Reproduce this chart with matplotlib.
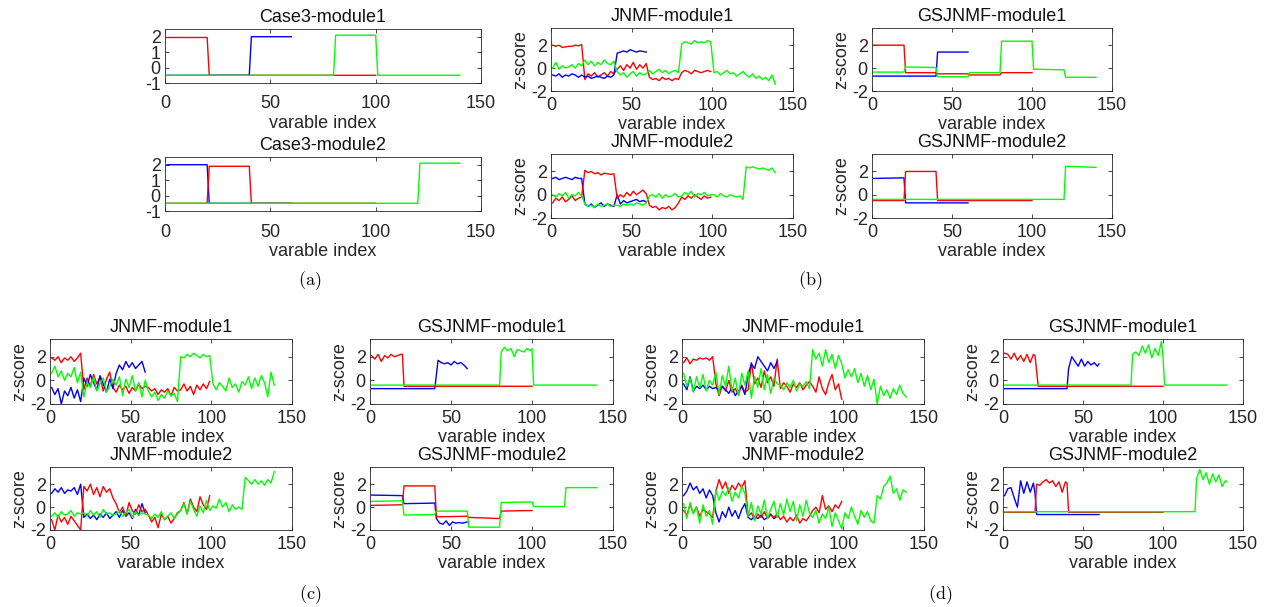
import matplotlib
matplotlib.use('Agg')
import matplotlib.pyplot as plt
import numpy as np

plt.rcParams['font.family'] = ['Liberation Sans', 'DejaVu Sans']
plt.rcParams['mathtext.fontset'] = 'cm'
plt.rcParams['axes.unicode_minus'] = False

# ---------------- (a) ground truth, breakpoints ----------------
a1_red_x = [1, 20, 21, 100];            a1_red_y = [1.95, 1.95, -0.5, -0.5]
a1_blue_x = [1, 40, 41, 60];            a1_blue_y = [-0.5, -0.5, 2.0, 2.0]
a1_green_x = [1, 80, 81, 100, 101, 140]; a1_green_y = [-0.5, -0.5, 2.1, 2.1, -0.5, -0.5]

a2_red_x = [1, 20, 21, 40, 41, 100];    a2_red_y = [-0.5, -0.5, 1.9, 1.9, -0.5, -0.5]
a2_blue_x = [1, 20, 21, 60];            a2_blue_y = [2.0, 2.0, -0.5, -0.5]
a2_green_x = [1, 120, 121, 140];        a2_green_y = [-0.5, -0.5, 2.1, 2.1]

# ---------------- (b) ----------------
# JNMF, sampled every 2nd variable
b1_red = [2.0, 1.9, 2.0, 1.8, 1.85, 1.9, 1.9, 2.0, 1.95, 2.05,
          -1.0, -0.5, -0.7, -0.4, -0.8, -0.6, -0.4, -0.7, -0.3, -0.5,
          -0.1, 0.2, -0.2, 0.3, 0.0, 0.5, -0.1, 0.3, 0.0, 0.4,
          -0.8, -1.0, -0.9, -1.1, -0.8, -1.0, -0.9, -1.1, -0.9, -1.0,
          -0.4, -0.2, -0.3, -0.5, -0.2, -0.3, -0.4, -0.3, -0.2, -0.3]
b1_blue = [-0.6, -0.7, -0.5, -0.8, -0.6, -0.7, -0.5, -0.6, -0.8, -0.6,
           -0.8, -0.7, -0.9, -0.8, -0.7, -0.8, -0.9, -0.7, -0.8, -0.6,
           1.3, 1.4, 1.5, 1.4, 1.6, 1.5, 1.4, 1.5, 1.45, 1.4]
b1_green = [0.0, 0.5, -0.1, 0.2, 0.0, 0.1, 0.3, 0.0, 0.4, 0.2,
            0.7, 0.3, 0.6, 0.2, 0.5, 0.3, 0.7, 0.4, 0.3, 0.6,
            -0.3, -0.6, -0.4, -0.8, -0.5, -0.3, -0.7, -0.4, -0.6, -0.5,
            -0.2, -0.5, -0.3, -0.1, -0.4, -0.2, -0.5, -0.3, -0.2, -0.4,
            2.1, 2.3, 2.2, 2.1, 2.4, 2.2, 2.3, 2.2, 2.4, 2.3,
            -0.4, -0.3, -0.6, -0.4, -0.2, -0.5, -0.4, -0.7, -0.5, -0.3,
            -0.6, -0.8, -0.5, -0.9, -0.7, -1.0, -0.8, -1.1, -0.6, -1.4]
b2_red = [-0.7, -0.3, -0.5, -0.2, -0.6, -0.4, -0.1, -0.5, -0.3, -0.2,
          2.1, 1.9, 2.0, 1.8, 1.9, 1.7, 1.85, 1.8, 1.75, 1.8,
          -0.3, 0.0, -0.2, 0.2, -0.1, 0.3, 0.0, 0.2, 0.4, 0.1,
          -0.9, -1.1, -1.0, -1.3, -1.1, -1.2, -1.0, -1.3, -1.1, -0.7,
          -0.2, -0.4, -0.1, -0.3, 0.0, -0.2, -0.4, -0.1, -0.3, -0.2]
b2_blue = [1.4, 1.5, 1.3, 1.4, 1.5, 1.4, 1.3, 1.5, 1.4, 1.4,
           -0.8, -1.0, -0.8, -1.1, -0.9, -0.7, -1.0, -0.8, -0.9, -1.0,
           0.0, -0.8, -0.5, -0.7, -0.6, -0.5, -0.4, -0.6, -0.5, -0.6]
b2_green = [0.0, -0.2, 0.1, -0.1, 0.2, -0.3, 0.0, -0.1, 0.2, -0.1,
            -0.8, -1.0, -0.9, -1.1, -0.8, -1.0, -0.9, -0.8, -1.0, -0.9,
            -0.9, -1.0, -0.8, -0.9, -0.8, -0.9, -0.7, -0.8, -0.9, -0.7,
            -0.1, 0.0, -0.2, 0.1, -0.3, 0.0, -0.2, -0.1, 0.1, -0.2,
            -0.1, 0.2, 0.0, 0.3, -0.2, 0.1, 0.0, 0.2, -0.1, 0.0,
            0.0, -0.2, 0.1, -0.1, -0.2, 0.0, -0.1, -0.2, -0.1, -0.4,
            2.4, 2.3, 2.4, 2.3, 2.2, 2.3, 2.2, 2.1, 2.3, 1.9]

# GSJNMF, breakpoints
bg1_red_x = [1, 20, 21, 40, 41, 60, 61, 80, 81, 100]
bg1_red_y = [2.0, 2.0, -0.4, -0.4, -0.5, -0.5, -0.6, -0.6, -0.4, -0.4]
bg1_blue_x = [1, 40, 41, 60]
bg1_blue_y = [-0.7, -0.7, 1.4, 1.4]
bg1_green_x = [1, 20, 21, 40, 41, 60, 61, 80, 81, 100, 101, 120, 121, 140]
bg1_green_y = [-0.35, -0.35, 0.1, 0.05, -0.75, -0.75, -0.4, -0.4, 2.35, 2.35, -0.1, -0.15, -0.8, -0.8]
bg2_red_x = [1, 20, 21, 40, 41, 100]
bg2_red_y = [-0.5, -0.5, 2.0, 2.0, -0.5, -0.5]
bg2_blue_x = [1, 20, 21, 60]
bg2_blue_y = [1.4, 1.45, -0.7, -0.7]
bg2_green_x = [1, 120, 121, 140]
bg2_green_y = [-0.4, -0.4, 2.45, 2.35]

# ---------------- (c) ----------------
c1_red = [1.9, 1.7, 2.0, 1.5, 1.9, 1.7, 2.0, 1.6, 1.9, 2.3,
          -0.8, 0.2, -0.5, 0.5, -0.3, 0.3, -0.9, 0.1, 0.7, -0.6,
          -1.0, -0.4, -0.8, -0.5, -1.1, -0.6, -0.9, -0.3, -0.7, -0.5,
          -0.6, -0.9, -0.7, -1.2, -0.8, -1.0, -0.7, -1.3, -0.6, -0.9,
          -0.8, -0.3, -0.9, -0.5, -1.2, -0.4, -0.8, -0.3, -0.7, -0.1]
c1_blue = [-0.6, -1.2, -0.7, -2.0, -0.9, -1.3, -0.6, -1.5, -0.8, -1.8,
           0.2, -0.5, 0.5, -0.2, -0.8, 0.4, -0.3, -1.0, 0.1, -0.7,
           0.6, 1.3, 0.9, 1.6, 1.1, 1.5, 1.0, 1.3, 1.6, 0.7]
c1_green = [0.6, 1.2, 0.3, 0.8, 0.0, 0.6, 0.3, 1.1, -0.2, 0.7,
            -1.4, -0.2, -0.6, 0.3, -0.9, -0.3, 0.2, -1.0, -0.5, 0.1,
            -0.4, 0.3, -1.3, 0.1, -0.6, 0.4, -0.9, -0.2, -1.4, 0.0,
            -0.9, -1.4, -1.0, -1.7, -1.2, -1.5, -0.9, -1.3, -1.1, -1.8,
            2.0, 1.9, 2.2, 2.0, 2.3, 2.1, 1.9, 2.2, 2.0, 2.1,
            -0.3, -0.8, -0.2, -0.5, -0.9, 0.2, -0.6, -0.3, -1.0, -0.1,
            -0.4, 0.3, -0.7, 0.2, -0.5, 0.4, -0.2, -1.4, 0.7, -0.4]
c2_red = [-1.1, -2.0, -0.7, -1.3, -0.9, -1.5, -0.8, -1.2, -1.6, -2.0,
          1.8, 1.4, 2.0, 1.1, 1.7, 0.9, 1.8, 1.3, 1.6, 0.8,
          0.3, -0.5, 0.0, -0.8, 0.4, -0.3, -0.6, 0.2, -0.4, -0.2,
          -0.7, -1.3, -0.9, -1.8, -0.6, -1.1, -0.8, -1.4, -1.0, -0.5,
          -0.3, 0.4, -0.6, 0.7, 0.0, -0.4, 0.9, 0.2, -0.2, 1.0]
c2_blue = [1.2, 1.6, 1.3, 1.7, 1.2, 1.5, 1.4, 1.7, 1.1, 2.0,
           -0.9, -0.6, -1.0, -0.7, -1.1, -0.6, -0.9, -0.5, -1.0, -0.7,
           -0.4, -0.9, -0.3, -0.8, -0.5, -1.0, -0.2, -0.7, 0.3, -0.5]
c2_green = [-0.8, -0.5, -0.9, -0.4, -0.7, -0.6, -0.3, -0.8, -0.5, -0.6,
            -0.5, -0.8, -0.3, -0.7, -0.4, -0.9, -0.2, -0.6, -0.5, -0.7,
            -0.6, -0.3, -0.8, -0.5, -0.2, -0.9, -0.4, -0.7, -0.5, -0.6,
            -0.7, -1.0, -0.6, -0.9, -0.4, -1.1, -0.8, -0.5, -1.0, -0.6,
            -0.3, 0.3, -0.6, 0.5, -0.2, -0.8, 0.1, -0.5, 0.6, -0.3,
            0.1, -0.1, 0.7, 0.0, 0.4, -0.4, 0.2, -0.2, 0.0, -0.2,
            2.6, 2.3, 2.0, 2.4, 2.0, 2.3, 1.9, 2.4, 2.1, 3.1]

cg1_red_x = [1, 3, 5, 7, 9, 11, 13, 15, 17, 19, 20, 21, 100]
cg1_red_y = [2.1, 1.8, 2.2, 1.6, 2.1, 1.9, 2.2, 2.0, 2.1, 2.2, 2.2, -0.5, -0.5]
cg1_blue_x = [1, 40, 42, 44, 46, 48, 50, 52, 54, 56, 58, 60]
cg1_blue_y = [-0.7, -0.7, 1.7, 1.5, 1.4, 1.5, 1.3, 1.6, 1.4, 1.5, 1.3, 1.0]
cg1_green_x = [1, 80, 81, 83, 85, 87, 89, 91, 93, 95, 97, 99, 100, 101, 140]
cg1_green_y = [-0.4, -0.4, 2.4, 2.8, 2.5, 2.7, 2.0, 2.6, 2.5, 2.4, 2.7, 2.5, 2.7, -0.4, -0.4]
cg2_red_x = [1, 20, 21, 40, 41, 60, 61, 80, 81, 100]
cg2_red_y = [0.15, 0.2, 1.85, 1.85, -0.85, -0.8, -0.9, -1.0, -0.35, -0.3]
cg2_blue_x = [1, 20, 21, 40, 41, 43, 45, 47, 49, 51, 53, 55, 57, 60]
cg2_blue_y = [1.05, 1.0, 0.3, 0.35, -1.0, -1.4, -1.5, -1.2, -1.6, -1.3, -1.4, -1.35, -1.4, -1.3]
cg2_green_x = [1, 20, 21, 40, 41, 60, 61, 80, 81, 100, 101, 120, 121, 140]
cg2_green_y = [0.5, 0.55, -0.7, -0.65, -0.35, -0.35, -1.75, -1.75, 0.4, 0.45, 0.05, 0.05, 1.7, 1.7]

# ---------------- (d) ----------------
d1_red = [1.5, 1.9, 1.4, 1.8, 1.7, 1.9, 1.8, 1.9, 1.7, 2.0,
          -0.3, -1.3, -0.5, -0.9, 0.0, -1.0, -0.7, -1.2, -0.4, -1.0,
          -0.8, 1.5, -0.3, 0.2, -0.6, 0.8, -0.2, 0.3, -0.5, 1.8,
          -0.7, -0.2, -0.5, -1.0, -0.3, -0.6, -0.2, -0.8, -0.4, -0.1,
          -0.5, -1.0, 0.3, -0.7, -1.2, -0.2, 0.5, -0.8, -0.3, -1.6]
d1_blue = [-0.3, -0.8, 0.3, -0.9, -0.5, -0.7, -0.4, -0.8, -0.5, -0.7,
           -0.6, -0.9, -0.5, -0.8, -1.1, -0.6, -1.3, -0.9, -0.5, -1.2,
           0.5, 1.4, 1.0, 2.0, 1.6, 1.2, 0.8, 1.5, 1.0, 1.6]
d1_green = [0.6, -0.5, 0.2, -1.0, 0.3, -0.6, 0.5, -0.9, 0.0, -0.4,
            0.7, -1.2, 0.4, -0.5, 1.2, -0.9, 0.2, -1.3, 0.6, -0.4,
            0.8, -1.5, 0.3, -0.6, 1.0, -0.8, 0.5, -1.1, 0.2, -0.3,
            -0.4, -0.8, -0.2, -0.6, 0.0, -0.9, -0.3, -0.5, -0.1, -0.7,
            2.6, 1.8, 2.3, 1.2, 2.6, 1.5, 2.2, 1.0, 2.1, 1.4,
            0.2, 0.9, 0.3, 1.0, -0.2, 0.6, -0.5, 0.4, -0.8, 0.1,
            -2.0, -0.5, -1.3, -0.8, -1.5, -0.7, -1.2, -0.4, -1.1, -1.4]
d2_red = [-0.3, -0.7, 0.2, -0.5, 0.0, -0.8, -0.2, -0.4, -0.6, -0.9,
          1.4, 2.4, 1.6, 2.2, 1.2, 1.9, 1.5, 2.1, 1.7, 2.3,
          -0.8, -0.5, -1.1, -0.6, -0.9, -0.4, -1.0, -0.7, -0.9, -0.6,
          -1.1, -0.8, -1.3, -0.9, -1.2, -0.7, -1.4, -1.0, -1.2, -0.8,
          -0.3, 0.0, -0.5, 1.0, -0.2, 0.1, -0.4, 0.2, -0.1, 0.5]
d2_blue = [1.0, 1.4, 2.1, 1.5, 1.8, 1.2, 1.6, 0.8, 1.5, 1.0,
           -0.5, -1.3, -0.4, -0.9, 0.0, -0.8, -0.3, -1.0, -0.2, 0.3,
           -0.9, -1.1, -0.8, -1.0, -0.7, -1.1, -0.9, -0.6, -1.0, -0.8]
d2_green = [0.3, -1.0, 0.4, -0.6, 0.0, -1.4, 0.2, -0.8, -0.3, -1.5,
            1.5, 0.6, 1.4, 1.0, 1.7, 0.5, 1.3, 0.8, 1.8, 1.2,
            -0.8, 0.4, -1.2, 0.1, -0.6, 0.6, -1.0, -0.2, 0.5, -0.9,
            0.3, -0.7, 0.7, -0.4, 0.5, -1.2, 0.2, -0.8, 0.6, -0.5,
            -0.9, -0.3, -1.4, -0.6, -1.0, 0.0, -1.7, -0.5, -1.2, -1.9,
            -0.5, -1.0, 0.0, -0.8, -1.5, -0.3, -0.9, -0.4, -1.2, -1.4,
            1.0, 0.7, 1.8, 2.1, 2.7, 1.2, 1.6, 0.6, 1.5, 1.3]

dg1_red_x = [1, 3, 5, 7, 9, 11, 13, 15, 17, 19, 20, 22, 100]
dg1_red_y = [2.3, 2.2, 1.8, 2.3, 1.7, 2.1, 1.6, 2.2, 1.5, 2.2, 2.1, -0.5, -0.5]
dg1_blue_x = [1, 40, 41, 43, 45, 47, 49, 51, 53, 55, 57, 59, 60]
dg1_blue_y = [-0.7, -0.7, 1.0, 2.0, 1.6, 1.2, 1.8, 1.2, 1.6, 1.3, 1.5, 1.2, 1.4]
dg1_green_x = [1, 80, 81, 83, 85, 87, 89, 91, 93, 95, 97, 99, 100, 101, 140]
dg1_green_y = [-0.4, -0.4, 2.2, 2.4, 2.1, 2.9, 2.3, 3.0, 1.9, 2.7, 2.1, 3.3, 2.0, -0.4, -0.4]
dg2_red_x = [1, 20, 21, 23, 25, 27, 29, 31, 33, 35, 37, 39, 40, 41, 100]
dg2_red_y = [-0.45, -0.45, 2.0, 1.9, 2.2, 2.4, 2.1, 2.3, 1.8, 2.2, 1.3, 2.2, 2.1, -0.45, -0.45]
dg2_blue_x = [1, 3, 5, 7, 9, 11, 13, 15, 17, 19, 20, 21, 60]
dg2_blue_y = [1.0, 1.6, 1.7, 0.8, 0.0, 2.3, 1.2, 2.2, 1.3, 2.1, 1.2, -0.65, -0.65]
dg2_green_x = [1, 120, 121, 123, 125, 127, 129, 131, 133, 135, 137, 139, 140]
dg2_green_y = [-0.4, -0.4, 2.5, 3.3, 2.4, 3.0, 2.0, 2.9, 2.2, 2.8, 1.8, 2.3, 2.2]

RED, BLUE, GREEN = '#ff0000', '#0000ff', '#00ff00'
INK = '#262626'
W, H = 1270, 607
FS = 13


def every2(vals):
    return np.arange(len(vals)) * 2 + 1


def make_ax(fig, left, right, top, bottom, title, ylim, yticks, ylabel=True, xpad=4):
    ax = fig.add_axes([left / W, 1 - bottom / H, (right - left) / W, (bottom - top) / H])
    ax.set_xlim(0, 150)
    ax.set_ylim(*ylim)
    ax.set_xticks([0, 50, 100, 150])
    ax.set_yticks(yticks)
    ax.tick_params(direction='in', top=True, right=True, length=3, width=0.6,
                   colors=INK, labelsize=FS, pad=3)
    ax.tick_params(axis='x', pad=xpad)
    for s in ax.spines.values():
        s.set_color(INK)
        s.set_linewidth(0.6)
    ax.set_title(title, fontsize=FS, color='#111111', pad=5)
    ax.set_xlabel('varable index', fontsize=FS, color=INK, labelpad=2)
    if ylabel:
        ax.set_ylabel('z-score', fontsize=FS, color=INK, labelpad=1)
    return ax


def lines(ax, series):
    for x, y, c in series:
        ax.plot(x, y, color=c, lw=1.0)


fig = plt.figure(figsize=(W / 100, H / 100), dpi=100)

ylimA, ytA = (-1, 2.5), [-1, 0, 1, 2]
ylimZ, ytZ = (-2, 3.5), [-2, 0, 2]

ax = make_ax(fig, 165, 481, 29, 83, 'Case3-module1', ylimA, ytA, ylabel=False, xpad=9)
lines(ax, [(a1_red_x, a1_red_y, RED), (a1_blue_x, a1_blue_y, BLUE), (a1_green_x, a1_green_y, GREEN)])
ax = make_ax(fig, 165, 481, 157, 211, 'Case3-module2', ylimA, ytA, ylabel=False, xpad=9)
lines(ax, [(a2_blue_x, a2_blue_y, BLUE), (a2_red_x, a2_red_y, RED), (a2_green_x, a2_green_y, GREEN)])

ax = make_ax(fig, 551, 793, 28, 91, 'JNMF-module1', ylimZ, ytZ)
lines(ax, [(every2(b1_red), b1_red, RED), (every2(b1_blue), b1_blue, BLUE), (every2(b1_green), b1_green, GREEN)])
ax = make_ax(fig, 551, 793, 154, 218, 'JNMF-module2', ylimZ, ytZ)
lines(ax, [(every2(b2_blue), b2_blue, BLUE), (every2(b2_red), b2_red, RED), (every2(b2_green), b2_green, GREEN)])
ax = make_ax(fig, 872, 1112, 28, 91, 'GSJNMF-module1', ylimZ, ytZ)
lines(ax, [(bg1_red_x, bg1_red_y, RED), (bg1_blue_x, bg1_blue_y, BLUE), (bg1_green_x, bg1_green_y, GREEN)])
ax = make_ax(fig, 872, 1112, 154, 218, 'GSJNMF-module2', ylimZ, ytZ)
lines(ax, [(bg2_blue_x, bg2_blue_y, BLUE), (bg2_red_x, bg2_red_y, RED), (bg2_green_x, bg2_green_y, GREEN)])

ax = make_ax(fig, 50, 292, 339, 404, 'JNMF-module1', ylimZ, ytZ)
lines(ax, [(every2(c1_red), c1_red, RED), (every2(c1_blue), c1_blue, BLUE), (every2(c1_green), c1_green, GREEN)])
ax = make_ax(fig, 50, 292, 467, 530, 'JNMF-module2', ylimZ, ytZ)
lines(ax, [(every2(c2_blue), c2_blue, BLUE), (every2(c2_red), c2_red, RED), (every2(c2_green), c2_green, GREEN)])
ax = make_ax(fig, 370, 613, 339, 404, 'GSJNMF-module1', ylimZ, ytZ)
lines(ax, [(cg1_red_x, cg1_red_y, RED), (cg1_blue_x, cg1_blue_y, BLUE), (cg1_green_x, cg1_green_y, GREEN)])
ax = make_ax(fig, 370, 613, 467, 530, 'GSJNMF-module2', ylimZ, ytZ)
lines(ax, [(cg2_blue_x, cg2_blue_y, BLUE), (cg2_red_x, cg2_red_y, RED), (cg2_green_x, cg2_green_y, GREEN)])

ax = make_ax(fig, 682, 924, 339, 404, 'JNMF-module1', ylimZ, ytZ)
lines(ax, [(every2(d1_red), d1_red, RED), (every2(d1_blue), d1_blue, BLUE), (every2(d1_green), d1_green, GREEN)])
ax = make_ax(fig, 682, 924, 467, 530, 'JNMF-module2', ylimZ, ytZ)
lines(ax, [(every2(d2_blue), d2_blue, BLUE), (every2(d2_red), d2_red, RED), (every2(d2_green), d2_green, GREEN)])
ax = make_ax(fig, 1003, 1243, 339, 404, 'GSJNMF-module1', ylimZ, ytZ)
lines(ax, [(dg1_red_x, dg1_red_y, RED), (dg1_blue_x, dg1_blue_y, BLUE), (dg1_green_x, dg1_green_y, GREEN)])
ax = make_ax(fig, 1003, 1243, 467, 530, 'GSJNMF-module2', ylimZ, ytZ)
lines(ax, [(dg2_blue_x, dg2_blue_y, BLUE), (dg2_red_x, dg2_red_y, RED), (dg2_green_x, dg2_green_y, GREEN)])

# sub-figure captions
for txt, x, y in [('(a)', 310, 281), ('(b)', 810, 281), ('(c)', 310, 595), ('(d)', 940, 595)]:
    fig.text(x / W, 1 - y / H, r'$\mathrm{' + txt + '}$', ha='center', va='center', fontsize=13)

fig.savefig('out.png', dpi=100)
